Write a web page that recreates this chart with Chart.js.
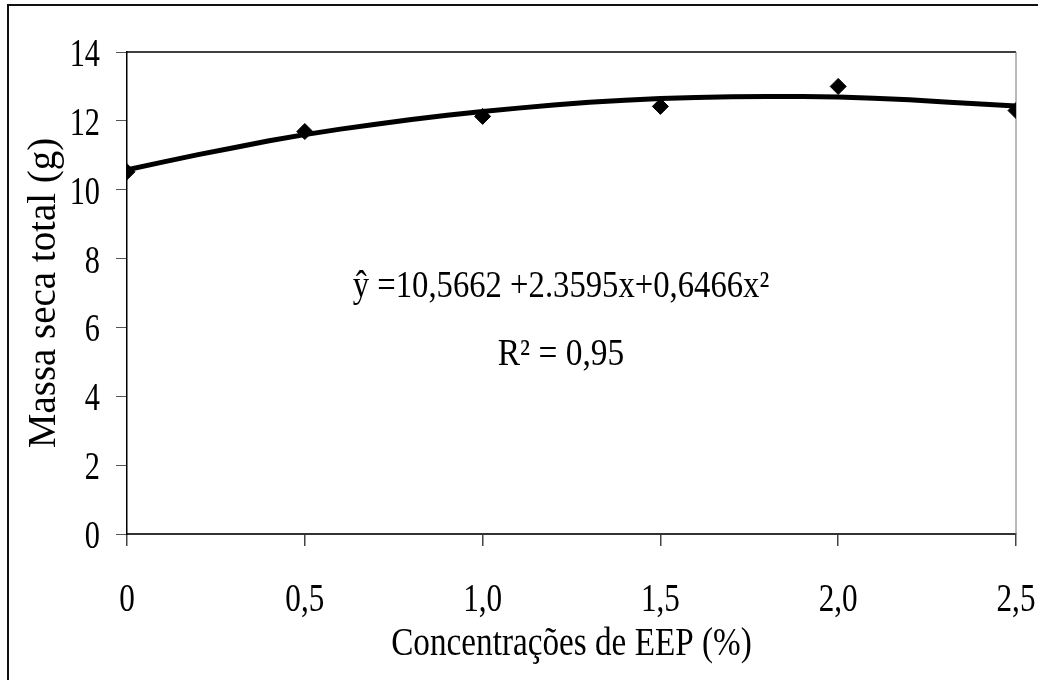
<!DOCTYPE html>
<html>
<head>
<meta charset="utf-8">
<title>Massa seca total</title>
<script src="https://cdn.jsdelivr.net/npm/chart.js@4.4.1/dist/chart.umd.min.js"></script>
<style>
  html, body { margin: 0; padding: 0; background: #fff; overflow: hidden; }
  canvas { display: block; }
</style>
</head>
<body>
<canvas id="massChart" width="1038" height="680"></canvas>
<script>
// observed means (diamonds)
const doses = [0, 0.5, 1.0, 1.5, 2.0, 2.5];
const observed = [10.52, 11.69, 12.13, 12.42, 13.0, 12.3];

// fitted curve
const curveX = [0, 0.1, 0.2, 0.3, 0.4, 0.5, 0.6, 0.7, 0.8, 0.9, 1.0, 1.1, 1.2,
                1.3, 1.4, 1.5, 1.6, 1.7, 1.8, 1.9, 2.0, 2.1, 2.2, 2.3, 2.4, 2.5];
const curveY = [10.58, 10.8, 11.02, 11.22, 11.42, 11.6, 11.76, 11.9, 12.04, 12.16, 12.27, 12.37, 12.46,
                12.54, 12.6, 12.65, 12.68, 12.7, 12.71, 12.71, 12.69, 12.66, 12.61, 12.55, 12.49, 12.43];

const xTickLabels = ['0', '0,5', '1,0', '1,5', '2,0', '2,5'];
const xTitle = 'Concentrações de EEP (%)';
const yTitle = 'Massa seca total (g)';
const eqText = 'ŷ =10,5662 +2.3595x+0,6466x²';
const r2Text = 'R² = 0,95';

const serif = '"Liberation Serif", "Times New Roman", serif';

// the original uses a narrow Times, so squeeze the text horizontally
function narrowText(ctx, str, x, y, size, squeeze, align, rotate) {
    ctx.save();
    ctx.translate(x, y);
    if (rotate) ctx.rotate(-Math.PI / 2);
    ctx.scale(squeeze, 1);
    ctx.font = size + 'px ' + serif;
    ctx.textAlign = align;
    ctx.textBaseline = 'alphabetic';
    ctx.fillStyle = '#000';
    ctx.fillText(str, 0, 0);
    ctx.restore();
}

const frameAndText = {
    id: 'frameAndText',
    beforeDraw(chart) {
        const ctx = chart.ctx;
        ctx.save();
        ctx.fillStyle = '#fff';
        ctx.fillRect(0, 0, chart.width, chart.height);
        // outer frame (only left and top are visible)
        ctx.fillStyle = '#111';
        ctx.fillRect(7, 4, 2, chart.height);
        ctx.fillRect(7, 4, chart.width, 2);
        ctx.restore();
    },
    beforeDatasetsDraw(chart) {
        const ctx = chart.ctx;
        const a = chart.chartArea;
        ctx.save();
        ctx.strokeStyle = '#000';
        ctx.lineWidth = 1.5;
        ctx.beginPath();
        ctx.moveTo(a.left, a.top);
        ctx.lineTo(a.right, a.top);
        ctx.stroke();
        ctx.strokeStyle = '#777';
        ctx.lineWidth = 1;
        ctx.beginPath();
        ctx.moveTo(a.right, a.top);
        ctx.lineTo(a.right, a.bottom);
        ctx.stroke();
        ctx.restore();
    },
    afterDraw(chart) {
        const ctx = chart.ctx;
        const xs = chart.scales.x;
        const ys = chart.scales.y;
        const a = chart.chartArea;

        ys.ticks.forEach(t => {
            narrowText(ctx, String(t.value), 100, ys.getPixelForValue(t.value) + 14, 41, 0.74, 'right');
        });
        xs.ticks.forEach((t, i) => {
            narrowText(ctx, xTickLabels[i], xs.getPixelForValue(t.value), 611, 41, 0.76, 'center');
        });

        narrowText(ctx, xTitle, (a.left + a.right) / 2, 655, 41, 0.81, 'center');
        narrowText(ctx, yTitle, 55, (a.top + a.bottom) / 2, 41, 0.95, 'center', true);

        narrowText(ctx, eqText, 561, 297, 38, 0.86, 'center');
        narrowText(ctx, r2Text, 561, 365, 38, 0.88, 'center');
    }
};

const ctx = document.getElementById('massChart').getContext('2d');

new Chart(ctx, {
    type: 'scatter',
    data: {
        datasets: [{
            label: 'Observado',
            data: doses.map((d, i) => ({ x: d, y: observed[i] })),
            pointStyle: 'rectRot',
            pointRadius: 8,
            backgroundColor: '#000',
            borderColor: '#000',
            borderWidth: 1,
            showLine: false
        }, {
            label: 'Ajuste',
            data: curveX.map((d, i) => ({ x: d, y: curveY[i] })),
            showLine: true,
            borderColor: '#000',
            borderWidth: 5,
            pointRadius: 0,
            tension: 0,
            fill: false
        }]
    },
    options: {
        responsive: false,
        animation: false,
        layout: {
            padding: { left: 116, top: 52, right: 22, bottom: 134 }
        },
        plugins: {
            legend: { display: false },
            tooltip: { enabled: false }
        },
        scales: {
            x: {
                type: 'linear',
                min: 0,
                max: 2.5,
                ticks: { stepSize: 0.5, display: false },
                grid: { drawOnChartArea: false, drawTicks: true, tickLength: 12, tickColor: '#444', lineWidth: 1.5 },
                border: { display: true, color: '#333', width: 2 }
            },
            y: {
                min: 0,
                max: 14,
                ticks: { stepSize: 2, display: false },
                grid: { drawOnChartArea: false, drawTicks: true, tickLength: 11, tickColor: '#555', lineWidth: 1 },
                border: { display: true, color: '#000', width: 1.5 }
            }
        }
    },
    plugins: [frameAndText]
});
</script>
</body>
</html>
